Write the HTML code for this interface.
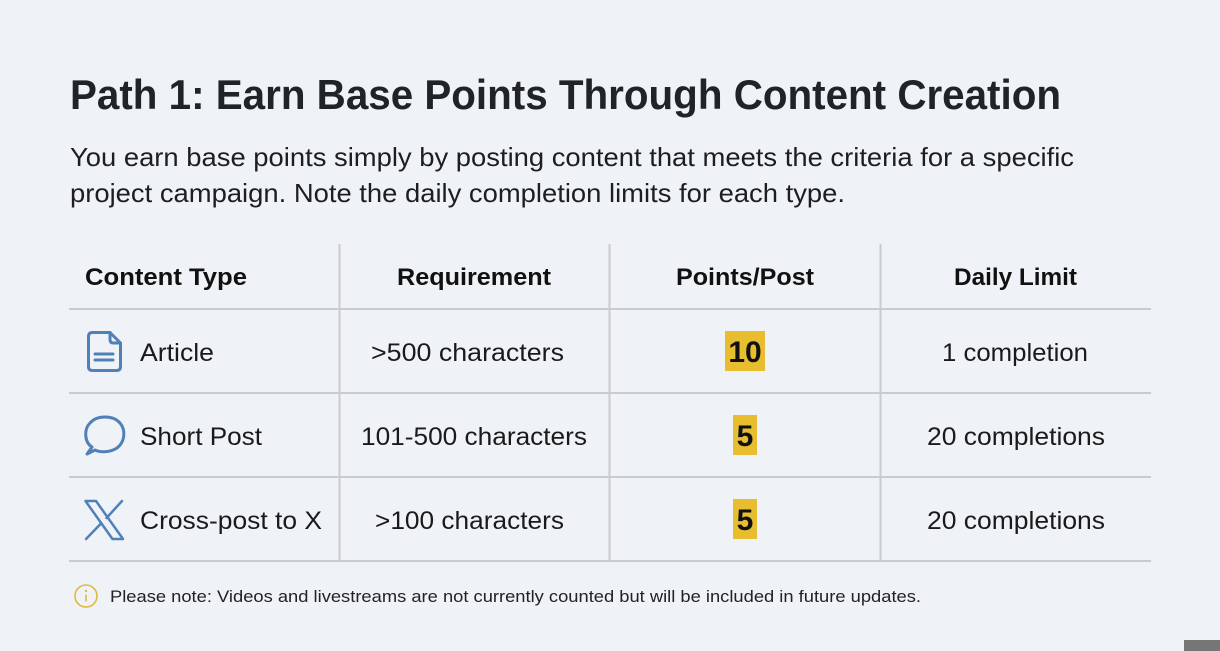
<!DOCTYPE html>
<html>
<head>
<meta charset="utf-8">
<style>
  html,body{margin:0;padding:0;background:#eff2f6;}
  body{width:1220px;height:651px;overflow:hidden;}
  svg{display:block;}
  text{font-family:"Liberation Sans", Arial, sans-serif;}
</style>
</head>
<body>
<svg width="1220" height="651" viewBox="0 0 1220 651" xmlns="http://www.w3.org/2000/svg">
  <rect x="0" y="0" width="1220" height="651" fill="#eff2f6"/>

  <!-- Title -->
  <text x="70" y="109" font-size="42" font-weight="bold" fill="#202328" textLength="991" lengthAdjust="spacingAndGlyphs">Path 1: Earn Base Points Through Content Creation</text>

  <!-- Paragraph -->
  <text x="70" y="166" font-size="26" fill="#1c1e22" textLength="1004" lengthAdjust="spacingAndGlyphs">You earn base points simply by posting content that meets the criteria for a specific</text>
  <text x="70" y="202" font-size="26" fill="#1c1e22" textLength="775" lengthAdjust="spacingAndGlyphs">project campaign. Note the daily completion limits for each type.</text>

  <!-- Table lines -->
  <g stroke="#c8cbcf" stroke-width="2">
    <line x1="339.5" y1="244" x2="339.5" y2="561"/>
    <line x1="609.5" y1="244" x2="609.5" y2="561"/>
    <line x1="880.5" y1="244" x2="880.5" y2="561"/>
    <line x1="69" y1="309" x2="1151" y2="309"/>
    <line x1="69" y1="393" x2="1151" y2="393"/>
    <line x1="69" y1="477" x2="1151" y2="477"/>
    <line x1="69" y1="561" x2="1151" y2="561"/>
  </g>

  <!-- Header -->
  <g font-size="24" font-weight="bold" fill="#111">
    <text x="85" y="285" textLength="162" lengthAdjust="spacingAndGlyphs">Content Type</text>
    <text x="397" y="285" textLength="154" lengthAdjust="spacingAndGlyphs">Requirement</text>
    <text x="676" y="285" textLength="138" lengthAdjust="spacingAndGlyphs">Points/Post</text>
    <text x="954" y="285" textLength="123" lengthAdjust="spacingAndGlyphs">Daily Limit</text>
  </g>

  <!-- Row texts -->
  <g font-size="25" fill="#1a1a1a">
    <text x="140" y="361" textLength="74" lengthAdjust="spacingAndGlyphs">Article</text>
    <text x="371" y="361" textLength="193" lengthAdjust="spacingAndGlyphs">&gt;500 characters</text>
    <text x="942" y="361" textLength="146" lengthAdjust="spacingAndGlyphs">1 completion</text>

    <text x="140" y="445" textLength="122" lengthAdjust="spacingAndGlyphs">Short Post</text>
    <text x="361" y="445" textLength="226" lengthAdjust="spacingAndGlyphs">101-500 characters</text>
    <text x="927" y="445" textLength="178" lengthAdjust="spacingAndGlyphs">20 completions</text>

    <text x="140" y="529" textLength="182" lengthAdjust="spacingAndGlyphs">Cross-post to X</text>
    <text x="375" y="529" textLength="189" lengthAdjust="spacingAndGlyphs">&gt;100 characters</text>
    <text x="927" y="529" textLength="178" lengthAdjust="spacingAndGlyphs">20 completions</text>
  </g>

  <!-- Badges -->
  <rect x="725" y="331" width="40" height="40" fill="#e8bd30"/>
  <rect x="733" y="415" width="24" height="40" fill="#e8bd30"/>
  <rect x="733" y="499" width="24" height="40" fill="#e8bd30"/>
  <g font-size="30" font-weight="bold" fill="#111" text-anchor="middle">
    <text x="745" y="362">10</text>
    <text x="745" y="446">5</text>
    <text x="745" y="530">5</text>
  </g>

  <!-- Icons -->
  <g fill="none" stroke="#4f81b8" stroke-width="3" stroke-linejoin="round" stroke-linecap="round">
    <!-- document -->
    <path d="M92.5 332.5 H110 L120.5 343 V366.5 Q120.5 370.5 116.5 370.5 H92.5 Q88.5 370.5 88.5 366.5 V336.5 Q88.5 332.5 92.5 332.5 Z"/>
    <path d="M110 332.5 V339.5 Q110 343 113.5 343 H120.5"/>
    <line x1="95" y1="354" x2="113" y2="354"/>
    <line x1="95" y1="360" x2="113" y2="360"/>
    <!-- chat bubble -->
    <path d="M92 447 C84 442 84 429 90 423 C97 415 113 415 120 423 C126 430 125 442 117 448 C111 452 101 453 95 450 L87 454 L92 447 Z"/>
    <!-- X logo -->
    <path d="M85.5 501 H96 L123 539 H112.5 Z" stroke-width="2.5"/>
    <line x1="122" y1="501" x2="106.5" y2="518" stroke-width="2.5"/>
    <line x1="101" y1="523.5" x2="86" y2="539" stroke-width="2.5"/>
  </g>

  <!-- Footer note -->
  <circle cx="86" cy="596" r="11" fill="none" stroke="#e2b93b" stroke-width="1.6"/>
  <circle cx="86" cy="591" r="1.2" fill="#e2b93b"/>
  <line x1="86" y1="594.5" x2="86" y2="601.5" stroke="#e2b93b" stroke-width="1.6"/>
  <text x="110" y="602" font-size="17" fill="#222" textLength="811" lengthAdjust="spacingAndGlyphs">Please note: Videos and livestreams are not currently counted but will be included in future updates.</text>

  <!-- bottom-right gray block -->
  <rect x="1184" y="640" width="36" height="11" fill="#767676"/>
</svg>
</body>
</html>
